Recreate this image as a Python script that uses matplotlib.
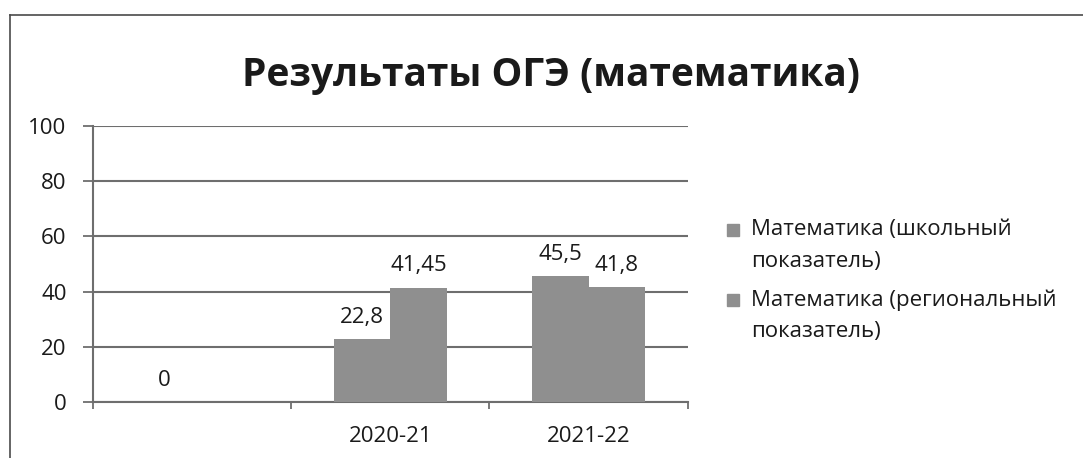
import matplotlib.pyplot as plt
import numpy as np
from matplotlib.patches import Rectangle

# данные с диаграммы
years = ["", "2020-21", "2021-22"]
school = [0, 22.8, 45.5]
regional = [np.nan, 41.45, 41.8]
series_names = [["Математика (школьный", "показатель)"],
                ["Математика (региональный", "показатель)"]]

plt.rcParams["font.family"] = ["Open Sans", "DejaVu Sans"]
TEXT = "#1a1a1a"
BAR = "#8f8f8f"
GRID = "#6e6e6e"
FS = 16


def fmt(v):
    return f"{v:g}".replace(".", ",")


fig = plt.figure(figsize=(10.83, 4.58), dpi=100)
ax = fig.add_axes([0.0859, 0.1223, 0.5491, 0.6026])

x = np.arange(len(years))
w = 0.285
for vals, off in [(school, -w / 2), (regional, w / 2)]:
    ax.bar(x + off, vals, width=w, color=BAR, zorder=3)
    for xi, v in zip(x + off, vals):
        if np.isnan(v):
            continue
        ax.annotate(fmt(v), (xi, v), xytext=(0, 8), textcoords="offset points",
                    ha="center", va="bottom", fontsize=FS, color=TEXT)

ax.set_xlim(-0.5, 2.5)
ax.set_ylim(0, 100)
ax.set_yticks(range(0, 101, 20))
ax.yaxis.grid(True, color=GRID, linewidth=1.5, zorder=0)
ax.set_axisbelow(True)

# метки категорий по центру, засечки на границах
ax.set_xticks(np.arange(-0.5, 3, 1))
ax.set_xticklabels([])
ax.set_xticks(x, minor=True)
ax.set_xticklabels(years, minor=True)
ax.tick_params(axis="x", which="major", length=5, color=GRID, width=1.3)
ax.tick_params(axis="x", which="minor", length=0, pad=17, labelsize=FS, labelcolor=TEXT)
ax.tick_params(axis="y", length=7, color=GRID, width=1.3, labelsize=FS, labelcolor=TEXT, pad=12)

for s in ["top", "right"]:
    ax.spines[s].set_visible(False)
for s in ["left", "bottom"]:
    ax.spines[s].set_color(GRID)
    ax.spines[s].set_linewidth(1.5)

fig.text(0.509, 1 - 86 / 458, "Результаты ОГЭ (математика)", ha="center", va="baseline",
         fontsize=28, fontweight="bold", color=TEXT)

# легенда: маркер у первой строки подписи
H = 458
W = 1083
for lines, y0 in zip(series_names, [230, 300]):
    fig.add_artist(Rectangle((727 / W, 1 - (y0 + 6) / H), 12 / W, 12 / H,
                             transform=fig.transFigure, color=BAR))
    for i, line in enumerate(lines):
        fig.text(751 / W, 1 - (y0 + i * 32) / H, line, ha="left", va="center",
                 fontsize=FS, color=TEXT)

# рамка области диаграммы
frame = "#4a4a4a"
fig.add_artist(plt.Line2D([0.0095, 0.0095], [0, 0.967], color=frame, lw=1.2))
fig.add_artist(plt.Line2D([0.0095, 1.0], [0.967, 0.967], color=frame, lw=1.2))

fig.savefig("out.png", dpi=100)
